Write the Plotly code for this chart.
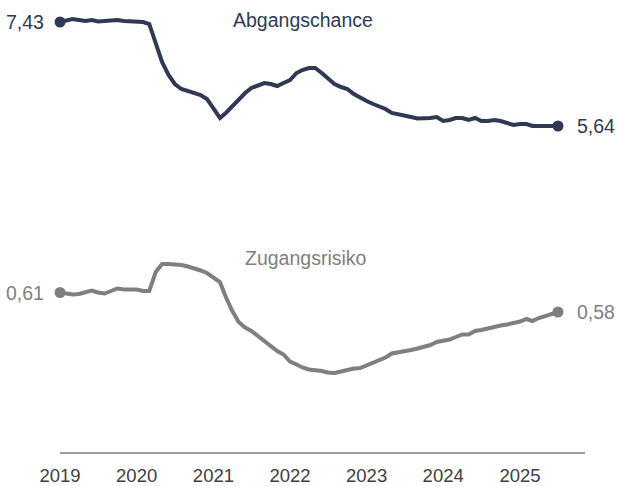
import pandas as pd
import plotly.graph_objects as go

# Monthly data, Jan 2019 - Jul 2025
months = pd.date_range("2019-01-01", periods=79, freq="MS")

abgangschance = [
    7.430, 7.464, 7.482, 7.464, 7.447, 7.464, 7.439, 7.447, 7.456, 7.464, 7.447, 7.439,
    7.439, 7.430, 7.396, 7.086, 6.742, 6.518, 6.363, 6.277, 6.242, 6.208, 6.174, 6.105,
    5.950, 5.778, 5.864, 5.984, 6.087, 6.208, 6.294, 6.346, 6.380, 6.363, 6.328, 6.380,
    6.432, 6.552, 6.604, 6.638, 6.638, 6.552, 6.449, 6.363, 6.311, 6.277, 6.191, 6.122,
    6.070, 6.019, 5.984, 5.933, 5.864, 5.846, 5.829, 5.795, 5.769, 5.769, 5.778, 5.795,
    5.726, 5.743, 5.778, 5.778, 5.743, 5.778, 5.726, 5.726, 5.743, 5.726, 5.692, 5.657,
    5.674, 5.674, 5.640, 5.640, 5.657, 5.640, 5.640,
]

zugangsrisiko = [
    0.6100, 0.6076, 0.6068, 0.6076, 0.6108, 0.6132, 0.6100, 0.6084, 0.6124, 0.6164, 0.6148, 0.6148,
    0.6148, 0.6124, 0.6124, 0.6428, 0.6556, 0.6556, 0.6556, 0.6540, 0.6516, 0.6492, 0.6452, 0.6412,
    0.6348, 0.6268, 0.6028, 0.5804, 0.5628, 0.5540, 0.5484, 0.5404, 0.5340, 0.5260, 0.5164, 0.5108,
    0.4996, 0.4948, 0.4900, 0.4868, 0.4860, 0.4844, 0.4820, 0.4812, 0.4836, 0.4860, 0.4884, 0.4892,
    0.4932, 0.4972, 0.5020, 0.5060, 0.5124, 0.5140, 0.5164, 0.5180, 0.5204, 0.5228, 0.5260, 0.5308,
    0.5324, 0.5348, 0.5388, 0.5428, 0.5428, 0.5484, 0.5500, 0.5524, 0.5564, 0.5572, 0.5588, 0.5604,
    0.5636, 0.5676, 0.5644, 0.5692, 0.5724, 0.5748, 0.5788,
]

series_names = ["Abgangschance", "Zugangsrisiko"]
year_ticks = pd.date_range("2019-01-01", "2025-01-01", freq="YS")
year_labels = [str(d.year) for d in year_ticks]

NAVY = "#2f3a52"
GREY = "#7f7f7f"
FONT = "Arial, Liberation Sans, sans-serif"
LBL = 19.5


def de(v):
    return f"{v:.2f}".replace(".", ",")


fig = go.Figure()

for vals, color, yax in [(abgangschance, NAVY, "y"), (zugangsrisiko, GREY, "y2")]:
    fig.add_trace(go.Scatter(
        x=months, y=vals, mode="lines", yaxis=yax,
        line=dict(color=color, width=4), showlegend=False, hoverinfo="skip",
    ))
    fig.add_trace(go.Scatter(
        x=[months[0], months[-1]], y=[vals[0], vals[-1]], mode="markers", yaxis=yax,
        marker=dict(color=color, size=11), showlegend=False, cliponaxis=False,
        hoverinfo="skip",
    ))

annotations = []
for vals, color, yref in [(abgangschance, NAVY, "y"), (zugangsrisiko, GREY, "y2")]:
    annotations.append(dict(x=months[0], y=vals[0], xref="x", yref=yref, text=de(vals[0]),
                            showarrow=False, xanchor="right", yanchor="middle", xshift=-14,
                            font=dict(color=color, size=LBL, family=FONT)))
    annotations.append(dict(x=months[-1], y=vals[-1], xref="x", yref=yref, text=de(vals[-1]),
                            showarrow=False, xanchor="left", yanchor="middle", xshift=17,
                            font=dict(color=color, size=LBL, family=FONT)))

annotations.append(dict(x=0.4913, y=1 - 20 / 453, xref="paper", yref="paper",
                        xanchor="center", yanchor="middle",
                        text=series_names[0], showarrow=False,
                        font=dict(color=NAVY, size=LBL, family=FONT)))
annotations.append(dict(x=0.4957, y=1 - 258 / 453, xref="paper", yref="paper",
                        xanchor="center", yanchor="middle",
                        text=series_names[1], showarrow=False,
                        font=dict(color=GREY, size=LBL, family=FONT)))

fig.update_layout(
    width=617, height=486,
    margin=dict(l=20, r=20, t=0, b=33),
    paper_bgcolor="white", plot_bgcolor="white",
    xaxis=dict(
        range=["2018-06-24", "2026-01-03"],
        tickvals=list(year_ticks), ticktext=year_labels,
        showgrid=False, zeroline=False, showline=False,
        ticks="outside", ticklen=6, tickcolor="rgba(0,0,0,0)",
        tickfont=dict(color="#404040", size=18.5, family=FONT),
    ),
    yaxis=dict(range=[0.0117, 7.8087], visible=False, showgrid=False),
    yaxis2=dict(range=[0.3532, 1.078], visible=False, overlaying="y", showgrid=False),
    annotations=annotations,
    shapes=[dict(type="line", xref="paper", yref="paper",
                 x0=(60 - 20) / 577, x1=(585 - 20) / 577, y0=0, y1=0,
                 line=dict(color="#7f7f7f", width=1.5))],
)

# remove the browser's default 8px body margin so the 617x486 figure fills the window
fig.write_html(
    "out.html",
    config={"displayModeBar": False},
    post_script="document.body.style.margin='0';document.body.style.overflow='hidden';",
)
